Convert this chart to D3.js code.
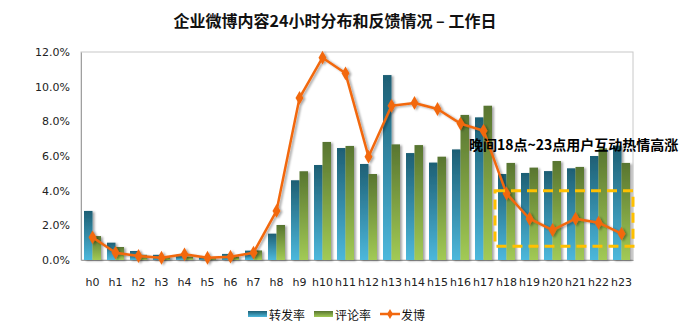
<!DOCTYPE html>
<html><head><meta charset="utf-8">
<script src="https://cdn.jsdelivr.net/npm/d3@7"></script>
<style>
html,body{margin:0;padding:0;background:#fff;}
svg{display:block;}
</style></head>
<body>
<svg id="c" width="700" height="334"></svg>
<script>
const categories = ["h0","h1","h2","h3","h4","h5","h6","h7","h8","h9","h10","h11","h12","h13","h14","h15","h16","h17","h18","h19","h20","h21","h22","h23"];
const repostRate = [2.83,1.0,0.52,0.3,0.3,0.15,0.35,0.54,1.52,4.6,5.48,6.46,5.54,10.67,6.17,5.62,6.38,8.23,4.96,5.02,5.13,5.29,6.0,6.6];
const commentRate = [1.38,0.75,0.3,0.2,0.2,0.1,0.2,0.55,2.02,5.12,6.81,6.58,4.96,6.67,6.63,5.96,8.37,8.9,5.6,5.33,5.71,5.37,6.44,5.6];
const postShare = [1.31,0.42,0.23,0.13,0.33,0.13,0.19,0.42,2.83,9.35,11.67,10.77,5.96,8.9,9.06,8.71,7.87,7.46,3.83,2.38,1.73,2.38,2.15,1.52];
const yTicks = [0,2,4,6,8,10,12];
const seriesNames = ["转发率","评论率","发博"];
const title = "企业微博内容24小时分布和反馈情况 – 工作日";
const annotation = "晚间18点~23点用户互动热情高涨";
const highlightRange = {from:"h18", top:4.0, bottom:0.8};

const svg = d3.select("#c");
const m = {left:81, right:67, top:52, bottom:74};
const W = 700, H = 334;
const x = d3.scaleBand().domain(categories).range([m.left, W - m.right]).paddingInner(0).paddingOuter(0);
const y = d3.scaleLinear().domain([0,12]).range([H - m.bottom, m.top]);

const defs = svg.append("defs");
const gb = defs.append("linearGradient").attr("id","gBlue").attr("x1",0).attr("y1",0).attr("x2",0).attr("y2",1);
gb.append("stop").attr("offset","0%").attr("stop-color","#1e5f74");
gb.append("stop").attr("offset","100%").attr("stop-color","#4cb8dc");
const gg = defs.append("linearGradient").attr("id","gGreen").attr("x1",0).attr("y1",0).attr("x2",0).attr("y2",1);
gg.append("stop").attr("offset","0%").attr("stop-color","#587530");
gg.append("stop").attr("offset","100%").attr("stop-color","#a2ca55");
const f = defs.append("filter").attr("id","sh").attr("x","-20%").attr("y","-20%").attr("width","160%").attr("height","160%");
f.append("feDropShadow").attr("dx",2).attr("dy",1).attr("stdDeviation",1).attr("flood-color","#000").attr("flood-opacity",0.35);

// title
svg.append("text").attr("x",335).attr("y",27).attr("text-anchor","middle")
  .attr("font-family","'Noto Sans CJK SC', sans-serif").attr("font-weight","bold").attr("font-size",16)
  .attr("fill","#111").text(title);

// plot frame
svg.append("rect").attr("x",m.left).attr("y",m.top).attr("width",W-m.left-m.right).attr("height",H-m.top-m.bottom)
  .attr("fill","none").attr("stroke","#c8c8c8").attr("stroke-width",1);

// y axis
const yAxis = d3.axisLeft(y).tickValues(yTicks).tickSize(0).tickPadding(11).tickFormat(d => d.toFixed(1) + "%");
const ya = svg.append("g").attr("transform",`translate(${m.left},0)`).call(yAxis);
ya.select(".domain").attr("stroke","#a0a0a0");
ya.selectAll("text").attr("font-family","'DejaVu Sans', sans-serif").attr("font-size",11).attr("fill","#222");

// x axis
const xAxis = d3.axisBottom(x).tickSize(0).tickPadding(18);
const xa = svg.append("g").attr("transform",`translate(0,${y(0)})`).call(xAxis);
xa.select(".domain").attr("stroke","#a0a0a0");
xa.selectAll("text").attr("font-family","'DejaVu Sans', sans-serif").attr("font-size",11).attr("fill","#222");

// bars
const bw = 8.5, inset = 3;
const bars = svg.append("g").attr("filter","url(#sh)");
bars.selectAll("rect.b").data(repostRate).join("rect").attr("class","b")
  .attr("x",(d,i)=>x(categories[i])+inset).attr("width",bw)
  .attr("y",d=>y(d)).attr("height",d=>y(0)-y(d)).attr("fill","url(#gBlue)");
bars.selectAll("rect.g").data(commentRate).join("rect").attr("class","g")
  .attr("x",(d,i)=>x(categories[i])+inset+bw).attr("width",bw)
  .attr("y",d=>y(d)).attr("height",d=>y(0)-y(d)).attr("fill","url(#gGreen)");

// line
const orange = "#f2680f";
const lg = svg.append("g").attr("filter","url(#sh)");
const line = d3.line().x((d,i)=>x(categories[i])+x.bandwidth()/2).y(d=>y(d));
lg.append("path").datum(postShare).attr("d",line).attr("fill","none").attr("stroke",orange).attr("stroke-width",2.5).attr("stroke-linejoin","round");
const diamond = d3.symbol().type(d3.symbolDiamond).size(55);
lg.selectAll("path.m").data(postShare).join("path").attr("class","m")
  .attr("d",diamond).attr("fill",orange)
  .attr("transform",(d,i)=>`translate(${x(categories[i])+x.bandwidth()/2},${y(d)})`);

// highlight box
svg.append("rect").attr("x",x(highlightRange.from)).attr("y",y(highlightRange.top))
  .attr("width",(W-m.right)-x(highlightRange.from)).attr("height",y(highlightRange.bottom)-y(highlightRange.top))
  .attr("fill","none").attr("stroke","#ffc000").attr("stroke-width",3).attr("stroke-dasharray","10,6");

// annotation
svg.append("text").attr("x",469).attr("y",150)
  .attr("font-family","'Noto Sans CJK SC', sans-serif").attr("font-weight","bold").attr("font-size",14)
  .attr("fill","#000").text(annotation);

// legend
const leg = svg.append("g").attr("font-family","'Noto Sans CJK SC', sans-serif").attr("font-size",12).attr("fill","#111");
const ly = 315;
leg.append("rect").attr("x",248).attr("y",ly-4).attr("width",19).attr("height",6).attr("fill","url(#gBlue)");
leg.append("text").attr("x",269).attr("y",ly+5).text(seriesNames[0]);
leg.append("rect").attr("x",314).attr("y",ly-4).attr("width",19).attr("height",6).attr("fill","url(#gGreen)");
leg.append("text").attr("x",335).attr("y",ly+5).text(seriesNames[1]);
leg.append("line").attr("x1",380).attr("x2",400).attr("y1",ly-1).attr("y2",ly-1).attr("stroke",orange).attr("stroke-width",2.5);
leg.append("path").attr("d",d3.symbol().type(d3.symbolDiamond).size(30)).attr("fill",orange).attr("transform",`translate(390,${ly-1})`);
leg.append("text").attr("x",401).attr("y",ly+5).text(seriesNames[2]);
</script>
</body></html>
